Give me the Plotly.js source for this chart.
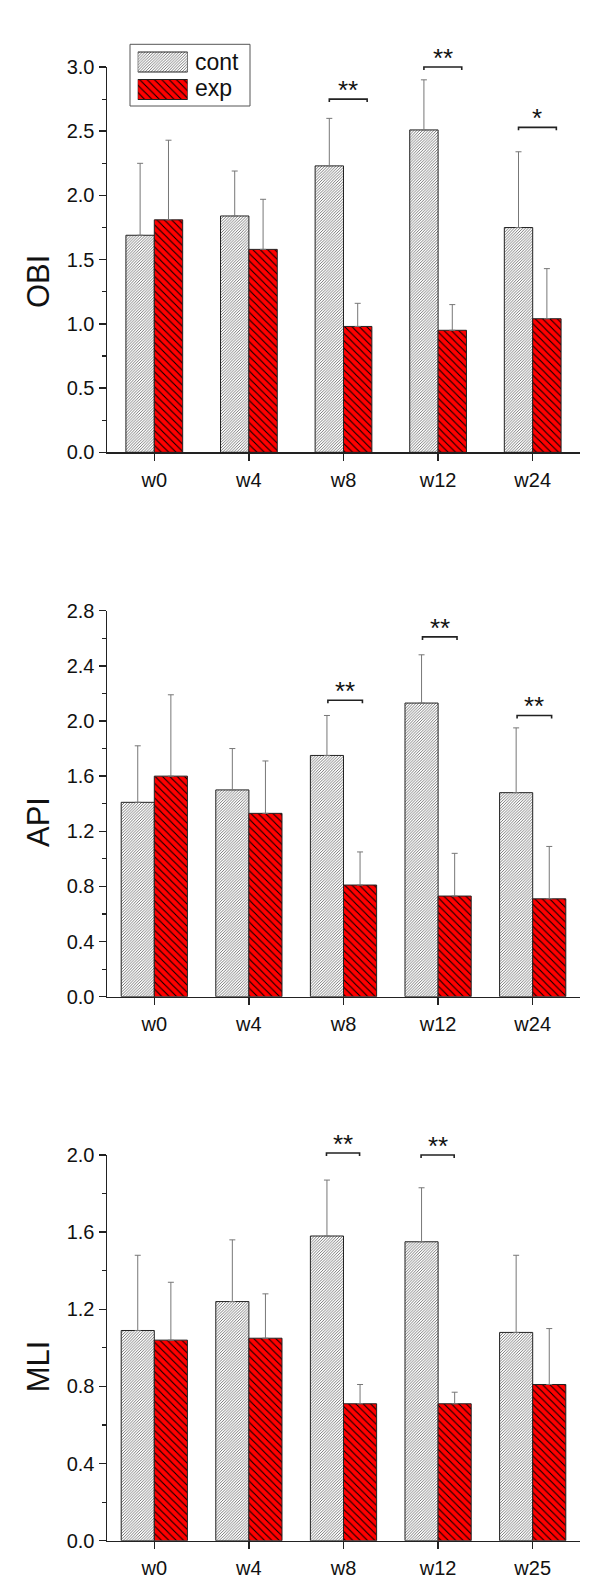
<!DOCTYPE html>
<html>
<head>
<meta charset="utf-8">
<script src="https://cdn.plot.ly/plotly-3.0.1.min.js"></script>
<style>
  html, body { margin: 0; padding: 0; background: #fff; }
  #chart { width: 600px; height: 1585px; }
</style>
</head>
<body>
<div id="chart"></div>
<script>
// ---------------- DATA ----------------
const catsA = ['w0', 'w4', 'w8', 'w12', 'w24'];
const catsC = ['w0', 'w4', 'w8', 'w12', 'w25'];
const seriesNames = ['cont', 'exp'];

// OBI
const obiCont = [1.69, 1.84, 2.23, 2.51, 1.75];
const obiContSD = [0.56, 0.35, 0.37, 0.39, 0.59];
const obiExp = [1.81, 1.58, 0.98, 0.95, 1.04];
const obiExpSD = [0.62, 0.39, 0.18, 0.20, 0.39];
const obiSigCats = ['w8', 'w12', 'w24'];
const obiSigY = [2.75, 3.0, 2.53];
const obiSigText = ['**', '**', '*'];

// API
const apiCont = [1.41, 1.50, 1.75, 2.13, 1.48];
const apiContSD = [0.41, 0.30, 0.29, 0.35, 0.47];
const apiExp = [1.60, 1.33, 0.81, 0.73, 0.71];
const apiExpSD = [0.59, 0.38, 0.24, 0.31, 0.38];
const apiSigCats = ['w8', 'w12', 'w24'];
const apiSigY = [2.15, 2.61, 2.04];
const apiSigText = ['**', '**', '**'];

// MLI
const mliCont = [1.09, 1.24, 1.58, 1.55, 1.08];
const mliContSD = [0.39, 0.32, 0.29, 0.28, 0.40];
const mliExp = [1.04, 1.05, 0.71, 0.71, 0.81];
const mliExpSD = [0.30, 0.23, 0.10, 0.06, 0.29];
const mliSigCats = ['w8', 'w12'];
const mliSigY = [2.01, 2.0];
const mliSigText = ['**', '**'];

// ---------------- STYLE ----------------
const FONT = '"Liberation Sans", Arial, Helvetica, sans-serif';
const H = 1585, W = 600;
const contPattern = { shape: '/', size: 2, solidity: 0.32, fgcolor: '#333', bgcolor: '#ffffff', fillmode: 'replace' };
const expPattern = { shape: '\\', size: 5.2, solidity: 0.2, fgcolor: '#000', bgcolor: '#ff0000', fillmode: 'replace' };
const outline = { color: '#222', width: 1 };
const errStyle = { color: '#777', thickness: 1, width: 3 };

function py(px) { return 1 - px / H; }
function pxX(px) { return px / W; }

const panels = [
  { cats: catsA, cont: obiCont, contSD: obiContSD, exp: obiExp, expSD: obiExpSD,
    sigCats: obiSigCats, sigY: obiSigY, sigText: obiSigText, title: 'OBI',
    top: 67, bot: 452.3, max: 3.0, dtick: 0.5, barW: 0.30, br: [-0.15, 0.25], titleY: 281.5 },
  { cats: catsA, cont: apiCont, contSD: apiContSD, exp: apiExp, expSD: apiExpSD,
    sigCats: apiSigCats, sigY: apiSigY, sigText: apiSigText, title: 'API',
    top: 610.7, bot: 996.7, max: 2.8, dtick: 0.4, barW: 0.35, br: [-0.165, 0.2], titleY: 822.5 },
  { cats: catsC, cont: mliCont, contSD: mliContSD, exp: mliExp, expSD: mliExpSD,
    sigCats: mliSigCats, sigY: mliSigY, sigText: mliSigText, title: 'MLI',
    top: 1155, bot: 1540.7, max: 2.0, dtick: 0.4, barW: 0.35, br: [-0.18, 0.17], titleY: 1366.7 }
];

const traces = [];
const layout = {
  width: W, height: H,
  margin: { l: 0, r: 0, t: 0, b: 0 },
  paper_bgcolor: '#fff', plot_bgcolor: 'rgba(0,0,0,0)',
  showlegend: false,
  font: { family: FONT, color: '#111', size: 20 },
  shapes: [], annotations: []
};

panels.forEach((p, k) => {
  const n = k + 1;
  const xa = 'x' + (n === 1 ? '' : n), ya = 'y' + (n === 1 ? '' : n);
  const xKey = 'xaxis' + (n === 1 ? '' : n), yKey = 'yaxis' + (n === 1 ? '' : n);

  traces.push({
    type: 'bar', name: seriesNames[0], x: p.cats, y: p.cont, xaxis: xa, yaxis: ya,
    width: p.barW, offset: -p.barW,
    marker: { color: '#fff', pattern: contPattern, line: outline },
    error_y: Object.assign({ type: 'data', symmetric: false, array: p.contSD, arrayminus: p.cont.map(() => 0) }, errStyle),
    hoverinfo: 'none'
  });
  traces.push({
    type: 'bar', name: seriesNames[1], x: p.cats, y: p.exp, xaxis: xa, yaxis: ya,
    width: p.barW, offset: 0,
    marker: { color: '#ff0000', pattern: expPattern, line: outline },
    error_y: Object.assign({ type: 'data', symmetric: false, array: p.expSD, arrayminus: p.exp.map(() => 0) }, errStyle),
    hoverinfo: 'none'
  });

  layout[xKey] = {
    domain: [pxX(107), pxX(580)], anchor: ya, type: 'category',
    categoryarray: p.cats, categoryorder: 'array',
    range: [-0.5, 4.5], fixedrange: true,
    showline: true, linecolor: '#222', linewidth: 1.5,
    ticks: 'outside', ticklen: 7, tickwidth: 1.5, tickcolor: '#222',
    ticklabelstandoff: 2,
    tickfont: { family: FONT, size: 20, color: '#111' },
    showgrid: false, zeroline: false
  };
  layout[yKey] = {
    domain: [py(p.bot), py(p.top)], anchor: xa,
    range: [0, p.max], fixedrange: true,
    dtick: p.dtick, tick0: 0, tickformat: '.1f',
    showline: true, linecolor: '#222', linewidth: 1.5,
    ticks: 'outside', ticklen: 7, tickwidth: 1.5, tickcolor: '#222',
    tickfont: { family: FONT, size: 20, color: '#111' },
    minor: { dtick: p.dtick / 2, ticks: 'outside', ticklen: 4, tickwidth: 1.2, tickcolor: '#222', showgrid: false },
    showgrid: false, zeroline: false
  };

  // y title
  layout.annotations.push({
    text: p.title, xref: 'paper', yref: 'paper', x: pxX(38.5), y: py(p.titleY),
    xanchor: 'center', yanchor: 'middle', textangle: -90, showarrow: false,
    font: { family: FONT, size: 31, color: '#111' }
  });

  // significance brackets
  p.sigCats.forEach((c, i) => {
    const idx = p.cats.indexOf(c);
    const yd = p.sigY[i] / p.max;
    const drop = 3 / (p.bot - p.top);
    const x0 = idx + p.br[0], x1 = idx + p.br[1];
    layout.shapes.push({
      type: 'path', xref: xa, yref: ya + ' domain',
      path: `M${x0},${yd - drop} L${x0},${yd} L${x1},${yd} L${x1},${yd - drop}`,
      line: { color: '#222', width: 1.6 }
    });
    layout.annotations.push({
      text: p.sigText[i], xref: xa, yref: ya + ' domain', x: (x0 + x1) / 2, y: yd,
      xanchor: 'center', yanchor: 'bottom', yshift: -8, showarrow: false,
      font: { family: FONT, size: 26, color: '#111' }
    });
  });
});

// ---------------- LEGEND (panel 1) ----------------
layout.shapes.push({
  type: 'rect', xref: 'paper', yref: 'paper', layer: 'below',
  x0: pxX(130), x1: pxX(250), y0: py(106), y1: py(44.3),
  line: { color: '#555', width: 1 }, fillcolor: '#fff'
});
layout.xaxis4 = { domain: [pxX(137.7), pxX(187.7)], anchor: 'y4', range: [0, 1], visible: false, fixedrange: true };
layout.yaxis4 = { domain: [py(103.25), py(48.25)], anchor: 'x4', type: 'category',
  categoryarray: ['exp', 'cont'], categoryorder: 'array', range: [-0.5, 1.5], visible: false, fixedrange: true };
traces.push({
  type: 'bar', orientation: 'h', x: [1], y: ['cont'], xaxis: 'x4', yaxis: 'y4', width: 0.727,
  marker: { color: '#fff', pattern: contPattern, line: outline }, hoverinfo: 'none'
});
traces.push({
  type: 'bar', orientation: 'h', x: [1], y: ['exp'], xaxis: 'x4', yaxis: 'y4', width: 0.727,
  marker: { color: '#ff0000', pattern: expPattern, line: outline }, hoverinfo: 'none'
});
layout.annotations.push({
  text: seriesNames[0], xref: 'paper', yref: 'paper', x: pxX(193), y: py(62),
  xanchor: 'left', yanchor: 'middle', showarrow: false, font: { family: FONT, size: 23, color: '#111' }
});
layout.annotations.push({
  text: seriesNames[1], xref: 'paper', yref: 'paper', x: pxX(193), y: py(88),
  xanchor: 'left', yanchor: 'middle', showarrow: false, font: { family: FONT, size: 23, color: '#111' }
});

Plotly.newPlot('chart', traces, layout, { displayModeBar: false, staticPlot: true });
</script>
</body>
</html>
